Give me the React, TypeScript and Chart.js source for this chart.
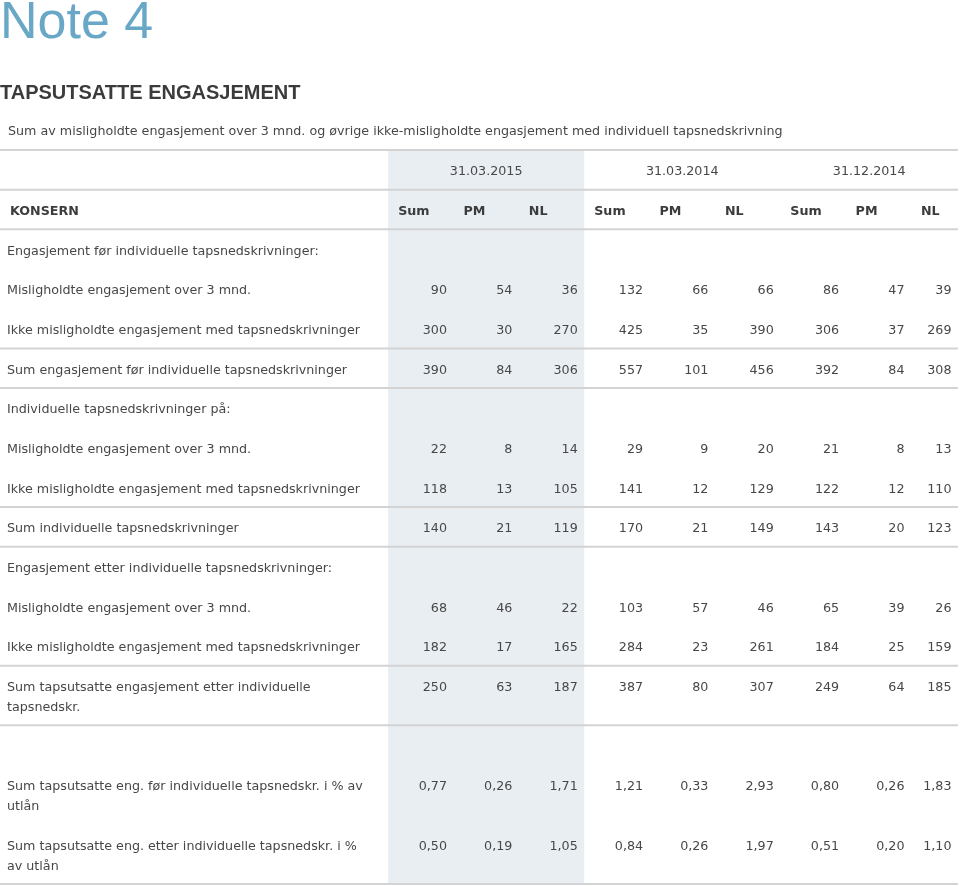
import React, { useEffect, useRef } from 'react';
import { Chart, registerables } from 'chart.js';

Chart.register(...registerables);

// ---------- content ----------
const noteTitle = 'Note 4';
const sectionTitle = 'TAPSUTSATTE ENGASJEMENT';
const description =
  'Sum av misligholdte engasjement over 3 mnd. og øvrige ikke-misligholdte engasjement med individuell tapsnedskrivning';
const cornerLabel = 'KONSERN';
const periods = ['31.03.2015', '31.03.2014', '31.12.2014'];
const measures = ['Sum', 'PM', 'NL'];

const rowLabels: string[][] = [
  ['Engasjement før individuelle tapsnedskrivninger:'],
  ['Misligholdte engasjement over 3 mnd.'],
  ['Ikke misligholdte engasjement med tapsnedskrivninger'],
  ['Sum engasjement før individuelle tapsnedskrivninger'],
  ['Individuelle tapsnedskrivninger på:'],
  ['Misligholdte engasjement over 3 mnd.'],
  ['Ikke misligholdte engasjement med tapsnedskrivninger'],
  ['Sum individuelle tapsnedskrivninger'],
  ['Engasjement etter individuelle tapsnedskrivninger:'],
  ['Misligholdte engasjement over 3 mnd.'],
  ['Ikke misligholdte engasjement med tapsnedskrivninger'],
  ['Sum tapsutsatte engasjement etter individuelle', 'tapsnedskr.'],
  [],
  ['Sum tapsutsatte eng. før individuelle tapsnedskr. i % av', 'utlån'],
  ['Sum tapsutsatte eng. etter individuelle tapsnedskr. i %', 'av utlån'],
];

// values per row: 31.03.2015 Sum/PM/NL, 31.03.2014 Sum/PM/NL, 31.12.2014 Sum/PM/NL
const misligholdteFor = [90, 54, 36, 132, 66, 66, 86, 47, 39];
const ikkeMisligholdteFor = [300, 30, 270, 425, 35, 390, 306, 37, 269];
const sumFor = [390, 84, 306, 557, 101, 456, 392, 84, 308];
const nedskrMisligholdte = [22, 8, 14, 29, 9, 20, 21, 8, 13];
const nedskrIkkeMisligholdte = [118, 13, 105, 141, 12, 129, 122, 12, 110];
const sumNedskr = [140, 21, 119, 170, 21, 149, 143, 20, 123];
const misligholdteEtter = [68, 46, 22, 103, 57, 46, 65, 39, 26];
const ikkeMisligholdteEtter = [182, 17, 165, 284, 23, 261, 184, 25, 159];
const sumEtter = [250, 63, 187, 387, 80, 307, 249, 64, 185];
const andelForPct = [0.77, 0.26, 1.71, 1.21, 0.33, 2.93, 0.8, 0.26, 1.83];
const andelEtterPct = [0.5, 0.19, 1.05, 0.84, 0.26, 1.97, 0.51, 0.2, 1.1];

const rowValues: (number[] | null)[] = [
  null,
  misligholdteFor,
  ikkeMisligholdteFor,
  sumFor,
  null,
  nedskrMisligholdte,
  nedskrIkkeMisligholdte,
  sumNedskr,
  null,
  misligholdteEtter,
  ikkeMisligholdteEtter,
  sumEtter,
  null,
  andelForPct,
  andelEtterPct,
];
const percentRows = [13, 14];

// ---------- layout (row / column units) ----------
const ROW_SPAN = [1, 1, 1, 1, 1, 1, 1, 1, 1, 1, 1, 1.5, 1, 1.5, 1.5];
const HEADER_ROWS = 3; // description, periods, measures
const RULED_BODY_ROWS = [0, 3, 4, 7, 8, 11, 12];
const LABEL_COL_UNITS = 5.94;
const LAST_COL_UNITS = 0.72;
const N_COLS = periods.length * measures.length;
const X_MIN = -LABEL_COL_UNITS;
const X_MAX = N_COLS - 1 + LAST_COL_UNITS;
const bodyTops: number[] = [];
{
  let acc = HEADER_ROWS;
  ROW_SPAN.forEach((s) => {
    bodyTops.push(acc);
    acc += s;
  });
}
const Y_MAX = HEADER_ROWS + ROW_SPAN.reduce((a, b) => a + b, 0);
const colRight = (c: number) => (c < N_COLS - 1 ? c + 1 : X_MAX);

const BODY_FONT = '12.7px "DejaVu Sans"';
const BOLD_FONT = 'bold 12.7px "DejaVu Sans"';
const TEXT_COLOR = '#474747';
const HEAD_COLOR = '#3c3c3c';
const RULE_COLOR = '#d3d3d3';
const SHADE_COLOR = '#e9eef3';
const FIRST_LINE = 22; // px from row top to first text line centre
const LINE_GAP = 20; // px between wrapped lines
const CELL_PAD_R = 6.5;
const HEAD_PAD_L = 10;
const LABEL_PAD_L = 7;

const fmt = (v: number, pct: boolean) =>
  pct ? v.toFixed(2).replace('.', ',') : String(v);

const tablePlugin = {
  id: 'tableCells',
  beforeDatasetsDraw(chart: any) {
    const { ctx } = chart;
    const x = chart.scales.x;
    const y = chart.scales.y;
    ctx.save();
    ctx.fillStyle = SHADE_COLOR;
    const x0 = x.getPixelForValue(0);
    const x1 = x.getPixelForValue(measures.length);
    const y0 = y.getPixelForValue(1);
    const y1 = y.getPixelForValue(Y_MAX);
    ctx.fillRect(x0, y0, x1 - x0, y1 - y0);

    // rules
    ctx.strokeStyle = RULE_COLOR;
    ctx.lineWidth = 2;
    const rules = [1, 2, ...RULED_BODY_ROWS.map((r) => bodyTops[r]), Y_MAX];
    const xl = x.getPixelForValue(X_MIN);
    const xr = x.getPixelForValue(X_MAX);
    rules.forEach((u) => {
      const py = y.getPixelForValue(u);
      ctx.beginPath();
      ctx.moveTo(xl, py);
      ctx.lineTo(xr, py);
      ctx.stroke();
    });
    ctx.restore();
  },
  afterDatasetsDraw(chart: any) {
    const { ctx } = chart;
    const x = chart.scales.x;
    const y = chart.scales.y;
    const left = x.getPixelForValue(X_MIN);
    ctx.save();
    ctx.textBaseline = 'middle';

    // description row
    ctx.font = BODY_FONT;
    ctx.fillStyle = TEXT_COLOR;
    ctx.textAlign = 'left';
    ctx.fillText(description, left + LABEL_PAD_L + 1, y.getPixelForValue(0) + FIRST_LINE - 1);

    // period headers
    periods.forEach((p, g) => {
      const a = x.getPixelForValue(g * measures.length);
      const b = x.getPixelForValue(colRight((g + 1) * measures.length - 1));
      ctx.textAlign = 'center';
      ctx.fillText(p, (a + b) / 2, y.getPixelForValue(1) + FIRST_LINE);
    });

    // measure headers
    ctx.font = BOLD_FONT;
    ctx.fillStyle = HEAD_COLOR;
    ctx.textAlign = 'left';
    ctx.fillText(cornerLabel, left + HEAD_PAD_L, y.getPixelForValue(2) + FIRST_LINE);
    for (let c = 0; c < N_COLS; c++) {
      ctx.fillText(
        measures[c % measures.length],
        x.getPixelForValue(c) + HEAD_PAD_L,
        y.getPixelForValue(2) + FIRST_LINE
      );
    }

    // row labels
    ctx.font = BODY_FONT;
    ctx.fillStyle = TEXT_COLOR;
    rowLabels.forEach((lines, r) => {
      const top = y.getPixelForValue(bodyTops[r]);
      lines.forEach((line, i) => {
        ctx.fillText(line, left + LABEL_PAD_L, top + FIRST_LINE + i * LINE_GAP);
      });
    });

    // numeric cells from dataset elements
    ctx.textAlign = 'right';
    chart.data.datasets.forEach((ds: any, di: number) => {
      const meta = chart.getDatasetMeta(di);
      meta.data.forEach((el: any, j: number) => {
        const raw = ds.data[j];
        ctx.fillText(fmt(raw.v, raw.pct), el.x - CELL_PAD_R, el.y + FIRST_LINE);
      });
    });
    ctx.restore();
  },
};

export default function App() {
  const ref = useRef<HTMLCanvasElement | null>(null);

  useEffect(() => {
    document.body.style.margin = '0';
    const canvas = ref.current;
    if (!canvas) return;

    const datasets = Array.from({ length: N_COLS }, (_, c) => ({
      label: `${periods[Math.floor(c / measures.length)]} ${measures[c % measures.length]}`,
      data: rowValues
        .map((vals, r) =>
          vals
            ? { x: colRight(c), y: bodyTops[r], v: vals[c], pct: percentRows.includes(r) }
            : null
        )
        .filter(Boolean),
      pointRadius: 0,
      pointHoverRadius: 0,
      showLine: false,
      clip: false,
    }));

    const chart = new Chart(canvas, {
      type: 'scatter',
      data: { datasets: datasets as any },
      options: {
        responsive: false,
        animation: false,
        events: [],
        layout: { padding: { left: 0, right: 2, top: 0, bottom: 2 } },
        scales: {
          x: { type: 'linear', display: false, min: X_MIN, max: X_MAX },
          y: { type: 'linear', display: false, reverse: true, min: 0, max: Y_MAX },
        },
        plugins: {
          legend: { display: false },
          tooltip: { enabled: false },
          title: {
            display: true,
            text: noteTitle,
            align: 'start',
            color: '#68a8c6',
            font: { family: '"Liberation Sans"', size: 52, weight: 'normal', lineHeight: 0.92 },
            padding: 0,
          },
          subtitle: {
            display: true,
            text: sectionTitle,
            align: 'start',
            color: '#3b3b3b',
            font: {
              family: '"Liberation Sans"',
              size: 20,
              weight: 'bold',
              lineHeight: 1,
            },
            padding: { top: 35.8, bottom: 6.7 },
          },
        },
      },
      plugins: [tablePlugin],
    } as any);

    return () => chart.destroy();
  }, []);

  return (
    <div style={{ width: 960, height: 886, background: '#fff' }}>
      <canvas ref={ref} width={960} height={886} style={{ display: 'block' }} />
    </div>
  );
}
